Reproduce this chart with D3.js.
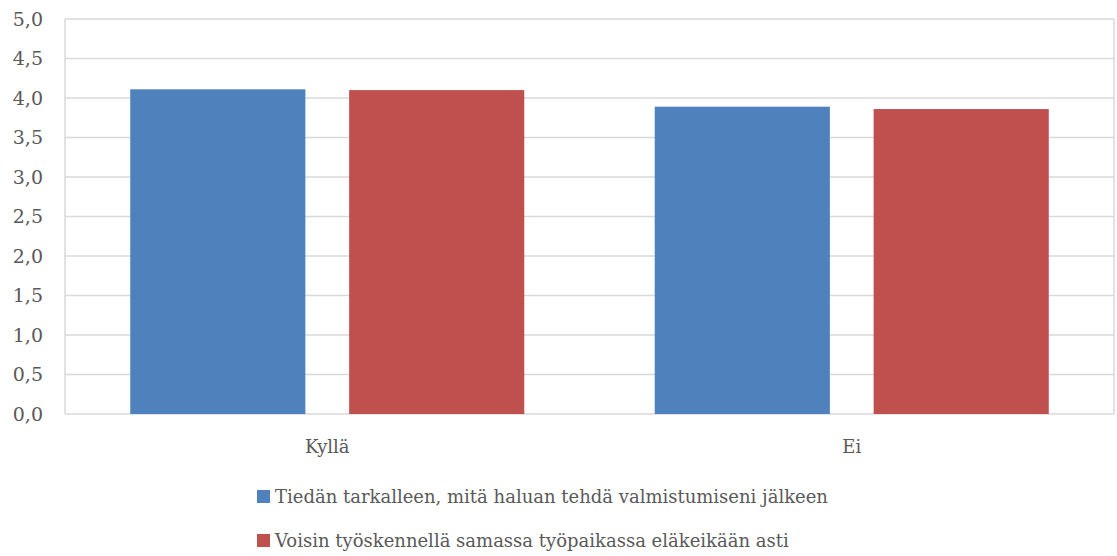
<!DOCTYPE html>
<meta charset="utf-8">
<style>
body { margin: 0; background: #fff; }
text { font-family: "DejaVu Serif", "Liberation Serif", serif; fill: #595959; }
.grid line { stroke: #d9d9d9; stroke-width: 1.5; }
</style>
<svg width="1117" height="556"></svg>
<script src="https://d3js.org/d3.v7.min.js"></script>
<script>

var categories = ["Kyllä", "Ei"];
var seriesNames = [
  "Tiedän tarkalleen, mitä haluan tehdä valmistumiseni jälkeen",
  "Voisin työskennellä samassa työpaikassa eläkeikään asti"
];
var blueValues = [4.11, 3.89];
var redValues = [4.10, 3.86];
var yTicks = [0, 0.5, 1, 1.5, 2, 2.5, 3, 3.5, 4, 4.5, 5];
var colors = ["#4f81bd", "#c0504d"];

var svg = d3.select("svg");
var plotLeft = 65, plotRight = 1114, plotTop = 19, plotBottom = 414;

var x0 = d3.scaleBand()
    .domain(categories)
    .range([plotLeft, plotRight])
    .paddingInner(0)
    .paddingOuter(0);

var x1 = d3.scaleBand()
    .domain([0, 1])
    .range([0, x0.bandwidth()])
    .paddingInner(0.2)
    .paddingOuter(0.298);

var y = d3.scaleLinear()
    .domain([0, 5])
    .range([plotBottom, plotTop]);

// gridlines
var grid = svg.append("g").attr("class", "grid");
grid.selectAll("line")
  .data(yTicks)
  .enter().append("line")
    .attr("x1", plotLeft)
    .attr("x2", plotRight)
    .attr("y1", function(d) { return y(d); })
    .attr("y2", function(d) { return y(d); });
grid.append("line")
    .attr("x1", plotLeft).attr("x2", plotLeft)
    .attr("y1", plotTop).attr("y2", plotBottom);
grid.append("line")
    .attr("x1", plotRight).attr("x2", plotRight)
    .attr("y1", plotTop).attr("y2", plotBottom);

// y tick labels
svg.append("g")
  .selectAll("text")
  .data(yTicks)
  .enter().append("text")
    .attr("x", 43)
    .attr("y", function(d) { return y(d); })
    .attr("dy", "0.35em")
    .attr("text-anchor", "end")
    .attr("font-size", 19)
    .text(function(d) { return d.toFixed(1).replace(".", ","); });

// bars
var data = categories.map(function(c, i) { return [blueValues[i], redValues[i]]; });
var groups = svg.append("g")
  .selectAll("g")
  .data(data)
  .enter().append("g")
    .attr("transform", function(d, i) { return "translate(" + x0(categories[i]) + ",0)"; });

groups.selectAll("rect")
  .data(function(d) { return d; })
  .enter().append("rect")
    .attr("x", function(d, j) { return x1(j); })
    .attr("width", x1.bandwidth())
    .attr("y", function(d) { return y(d); })
    .attr("height", function(d) { return y(0) - y(d); })
    .attr("fill", function(d, j) { return colors[j]; });

// category labels
svg.append("g")
  .selectAll("text")
  .data(categories)
  .enter().append("text")
    .attr("x", function(d) { return x0(d) + x0.bandwidth() / 2; })
    .attr("y", 447)
    .attr("dy", "0.35em")
    .attr("text-anchor", "middle")
    .attr("font-size", 18)
    .text(function(d) { return d; });

// legend
var legend = svg.append("g")
  .selectAll("g")
  .data(seriesNames)
  .enter().append("g")
    .attr("transform", function(d, i) { return "translate(257," + (497 + i * 44) + ")"; });

legend.append("rect")
    .attr("x", 0)
    .attr("y", -7)
    .attr("width", 13)
    .attr("height", 13)
    .attr("fill", function(d, i) { return colors[i]; });

legend.append("text")
    .attr("x", 18)
    .attr("y", 0)
    .attr("dy", "0.35em")
    .attr("font-size", 18)
    .text(function(d) { return d; });

</script>
